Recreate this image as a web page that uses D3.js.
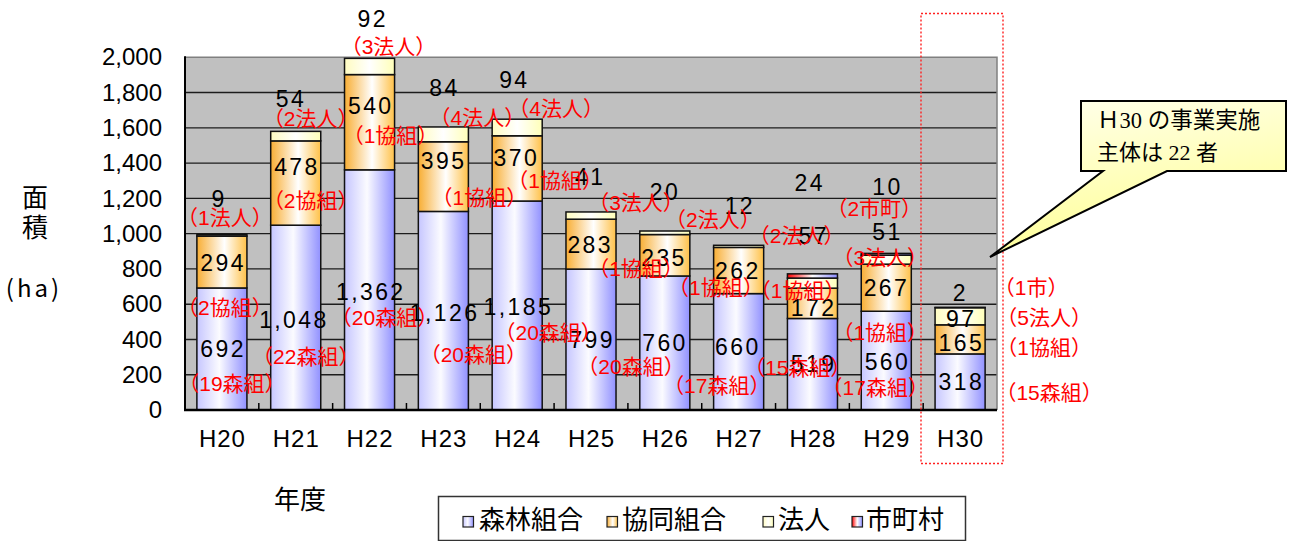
<!DOCTYPE html>
<html>
<head>
<meta charset="utf-8">
<script src="https://cdn.jsdelivr.net/npm/d3@7"></script>
<style>
  html, body { margin: 0; padding: 0; background: #fff; }
  svg { display: block; }
</style>
</head>
<body>
<svg id="chart" width="1296" height="541"></svg>
<script>
// ---- data -------------------------------------------------------------
const years        = ["H20","H21","H22","H23","H24","H25","H26","H27","H28","H29","H30"];
const forestCoop   = [692, 1048, 1362, 1126, 1185, 799, 760, 660, 519, 560, 318];  // 森林組合
const jointCoop    = [294, 478, 540, 395, 370, 283, 235, 262, 172, 267, 165];      // 協同組合
const corporation  = [9, 54, 92, 84, 94, 41, 20, 12, 57, 51, 97];                 // 法人
const municipality = [0, 0, 0, 0, 0, 0, 0, 0, 24, 10, 2];                          // 市町村

// number of operating bodies per year
const forestCount  = [19, 22, 20, 20, 20, 20, 17, 15, null, 17, 15];
const jointCount   = [2, 2, 1, 1, 1, 1, 1, 1, null, 1, 1];
const corpCount    = [1, 2, 3, 4, 4, 3, 2, 2, null, 3, 5];
const muniNote     = [null, null, null, null, null, null, null, null, null, "（2市町）", "（1市）"];

const yTicks       = [0, 200, 400, 600, 800, 1000, 1200, 1400, 1600, 1800, 2000];
const seriesNames  = ["森林組合", "協同組合", "法人", "市町村"];
const seriesKeys   = ["forest", "joint", "corp", "muni"];

// ---- layout -----------------------------------------------------------
const svg = d3.select("#chart");
const plot = { left: 185, right: 997, top: 57.3, bottom: 410 };

const x = d3.scaleBand().domain(years).range([plot.left, plot.right]).padding(0);
const barW = x.bandwidth() * 0.678;
const y = d3.scaleLinear().domain([0, 2000]).range([plot.bottom, plot.top]);

// label nudges [dx, dy] in px from each segment's middle
const valueNudge = {
  forest: [[0,0],[-3,2],[0,2],[0,2],[0,1],[0,0],[-1,0],[-2,-5],[0,-1],[0,1],[0,0]],
  joint:  [[0,1],[0,-16],[0,-16],[-1,-16],[-2,-11],[-2,1],[-2,2],[-2,0],[0,4],[-1,0],[0,3]],
  corp:   [[-4,-37],[-6,-37],[2,-47.5],[0,-47],[-4,-47.5],[-2,-38.6],[-1,-41],[0,-41],[0,-47],[0,-28],[0,2]],
  muni:   [null,null,null,null,null,null,null,null,[-4,-93],[0,-68],[-1,-14.5]]
};
// count-note nudges [dx, dy] in px from the value label
const noteNudge = {
  forest: [[10,34],[13,37],[15,26],[30,42],[31,26],[40,27],[53,42],[61,21],null,[-11,26],[89,10]],
  joint:  [[3,44],[15,33],[21,29],[37,37],[40,23],[47,23],[53,30],[61,20],null,[-5,45],[84,5]],
  corp:   [[7,19],[21,19],[17,27],[34,30],[43,28],[47,25],[49,28],[58,30],null,[-6,26],[84,-1]],
  muni:   [null,null,null,null,null,null,null,null,null,[-12,22],[72,-6]]
};

// ---- gradients ----------------------------------------------------------
const defs = svg.append("defs");
const gradStops = {
  forest: [[0, "#c6c6ff"], [0.45, "#fbfbff"], [1, "#9191ff"]],
  joint:  [[0, "#f8ae34"], [0.55, "#ffffff"], [1, "#ffc148"]],
  corp:   [[0, "#fffcc0"], [0.5, "#ffffff"], [1, "#ffffb8"]],
  muni:   [[0, "#ff0000"], [0.5, "#ffffff"], [1, "#8a8aff"]]
};
seriesKeys.forEach(k => {
  const g = defs.append("linearGradient").attr("id", "g-" + k)
    .attr("x1", 0).attr("x2", 1).attr("y1", 0).attr("y2", 0);
  gradStops[k].forEach(s => g.append("stop").attr("offset", s[0]).attr("stop-color", s[1]));
});
const callGrad = defs.append("linearGradient").attr("id", "g-call")
  .attr("x1", 0).attr("x2", 0.3).attr("y1", 0).attr("y2", 1);
callGrad.append("stop").attr("offset", 0).attr("stop-color", "#ffffee");
callGrad.append("stop").attr("offset", 1).attr("stop-color", "#ffff96");

// ---- plot area ----------------------------------------------------------
svg.append("rect").attr("x", plot.left).attr("y", plot.top)
  .attr("width", plot.right - plot.left).attr("height", plot.bottom - plot.top)
  .attr("fill", "#c0c0c0");

svg.append("g").selectAll("line").data(yTicks.filter(t => t > 0 && t < 2000)).join("line")
  .attr("x1", plot.left).attr("x2", plot.right)
  .attr("y1", d => y(d)).attr("y2", d => y(d))
  .attr("stroke", "#1c1c1c").attr("stroke-width", 1.4);

// top / right frame
svg.append("path")
  .attr("d", `M${plot.left},${plot.top}H${plot.right}V${plot.bottom}`)
  .attr("fill", "none").attr("stroke", "#808080").attr("stroke-width", 1.5);

// ---- stacked bars ---------------------------------------------------------
const rows = years.map((yr, i) => ({
  year: yr, forest: forestCoop[i], joint: jointCoop[i], corp: corporation[i], muni: municipality[i]
}));
const stacked = d3.stack().keys(seriesKeys)(rows);

const barG = svg.append("g");
stacked.forEach(layer => {
  barG.selectAll(null).data(layer.filter(d => d[1] - d[0] > 0)).join("rect")
    .attr("x", d => x(d.data.year) + (x.bandwidth() - barW) / 2)
    .attr("width", barW)
    .attr("y", d => y(d[1]))
    .attr("height", d => y(d[0]) - y(d[1]))
    .attr("fill", `url(#g-${layer.key})`)
    .attr("stroke", "#111").attr("stroke-width", 1.5);
});

// bottom ticks between categories
svg.append("g").selectAll("line").data(years.slice(1)).join("line")
  .attr("x1", d => x(d)).attr("x2", d => x(d))
  .attr("y1", plot.bottom).attr("y2", plot.bottom - 7)
  .attr("stroke", "#000").attr("stroke-width", 1.5);

// axis lines
svg.append("line").attr("x1", plot.left).attr("x2", plot.left)
  .attr("y1", plot.top - 1).attr("y2", plot.bottom + 1)
  .attr("stroke", "#000").attr("stroke-width", 2);
svg.append("line").attr("x1", plot.left - 1).attr("x2", plot.right)
  .attr("y1", plot.bottom).attr("y2", plot.bottom)
  .attr("stroke", "#000").attr("stroke-width", 2.5);

// ---- axes text ------------------------------------------------------------
const yAxis = svg.append("g").attr("transform", `translate(${plot.left},0)`)
  .call(d3.axisLeft(y).tickValues(yTicks).tickSize(0).tickPadding(23).tickFormat(d3.format(",")));
yAxis.select(".domain").remove();
yAxis.selectAll("text").attr("font-family", "Liberation Sans, Arial, sans-serif")
  .attr("font-size", 24).attr("fill", "#000");

const xAxis = svg.append("g").attr("transform", `translate(0,${plot.bottom})`)
  .call(d3.axisBottom(x).tickSize(0).tickPadding(20));
xAxis.select(".domain").remove();
xAxis.selectAll("text").attr("font-family", "Liberation Sans, Arial, sans-serif")
  .attr("font-size", 24).attr("fill", "#000").attr("letter-spacing", 1).attr("dx", 0.5);

const cjk = "Noto Sans CJK JP, sans-serif";
svg.append("text").attr("x", 35).attr("y", 198).attr("dy", "0.36em").attr("text-anchor", "middle")
  .attr("font-family", cjk).attr("font-size", 26).text("面");
svg.append("text").attr("x", 35).attr("y", 228).attr("dy", "0.36em").attr("text-anchor", "middle")
  .attr("font-family", cjk).attr("font-size", 26).text("積");
svg.append("text").attr("x", 34).attr("y", 288).attr("dy", "0.36em").attr("text-anchor", "middle")
  .attr("font-family", cjk).attr("font-size", 24).attr("letter-spacing", 3).text("(ha)");
svg.append("text").attr("x", 300).attr("y", 500).attr("dy", "0.36em").attr("text-anchor", "middle")
  .attr("font-family", cjk).attr("font-size", 26).text("年度");

// ---- value labels and count notes ----------------------------------------
const noteText = {
  forest: forestCount.map(n => n == null ? null : `（${n}森組）`),
  joint:  jointCount.map(n => n == null ? null : `（${n}協組）`),
  corp:   corpCount.map(n => n == null ? null : `（${n}法人）`),
  muni:   muniNote
};
const labelG = svg.append("g");
const noteG = svg.append("g");
stacked.forEach(layer => {
  const k = layer.key;
  layer.forEach((d, i) => {
    const v = d[1] - d[0];
    if (v <= 0) return;
    const nv = valueNudge[k][i];
    const cx = x(d.data.year) + x.bandwidth() / 2 + nv[0];
    const cy = y((d[0] + d[1]) / 2) + nv[1];
    labelG.append("text")
      .attr("x", cx + 1.2).attr("y", cy).attr("dy", "0.36em")
      .attr("text-anchor", "middle")
      .attr("font-family", "Liberation Sans, Arial, sans-serif")
      .attr("font-size", 23).attr("letter-spacing", 2.4).attr("fill", "#000")
      .text(d3.format(",")(v));
    const nn = noteNudge[k][i];
    const txt = noteText[k][i];
    if (nn && txt) {
      noteG.append("text")
        .attr("x", cx + nn[0]).attr("y", cy + nn[1]).attr("dy", "0.36em")
        .attr("text-anchor", "middle")
        .attr("font-family", "Liberation Sans, Noto Sans CJK JP, sans-serif")
        .attr("font-size", 21).attr("fill", "#ff0000")
        .text(txt);
    }
  });
});

// ---- highlight frame around the latest year --------------------------------
svg.append("rect").attr("x", 921).attr("y", 13.5).attr("width", 82).attr("height", 450)
  .attr("fill", "none").attr("stroke", "#ff2020").attr("stroke-width", 1.4)
  .attr("stroke-dasharray", "2,2");

// ---- callout ---------------------------------------------------------------
svg.append("path")
  .attr("d", "M1081,101H1286V171H1167L990,257L1103,171H1081Z")
  .attr("fill", "url(#g-call)").attr("stroke", "#000").attr("stroke-width", 2)
  .attr("stroke-linejoin", "miter");
const callFont = "Liberation Serif, Noto Sans CJK JP, serif";
svg.append("text").attr("x", 1097).attr("y", 128).attr("font-family", callFont)
  .attr("font-size", 22.5).attr("fill", "#000").text("Ｈ30 の事業実施");
svg.append("text").attr("x", 1097).attr("y", 160).attr("font-family", callFont)
  .attr("font-size", 22).attr("fill", "#000").text("主体は 22 者");

// ---- legend ----------------------------------------------------------------
svg.append("rect").attr("x", 438.5).attr("y", 496.5).attr("width", 527).attr("height", 44)
  .attr("fill", "#fff").attr("stroke", "#333").attr("stroke-width", 1.5);
const legSquareX = [463, 607, 763, 852];
const legTextX   = [479, 622, 778, 866];
seriesKeys.forEach((k, i) => {
  svg.append("rect").attr("x", legSquareX[i]).attr("y", 516.5).attr("width", 10.5).attr("height", 10.5)
    .attr("fill", `url(#g-${k})`).attr("stroke", "#222").attr("stroke-width", 1.2);
  svg.append("text").attr("x", legTextX[i]).attr("y", 519.5).attr("dy", "0.36em")
    .attr("font-family", cjk).attr("font-size", 26).attr("fill", "#000")
    .text(seriesNames[i]);
});
</script>
</body>
</html>
